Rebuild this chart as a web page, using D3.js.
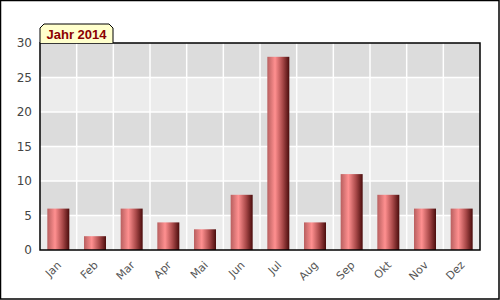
<!DOCTYPE html>
<html>
<head>
<meta charset="utf-8">
<script src="https://cdn.jsdelivr.net/npm/d3@7"></script>
<style>
  body { margin: 0; background: #fff; }
  svg { display: block; font-family: "DejaVu Sans", sans-serif; }
</style>
</head>
<body>
<div id="chart"></div>
<script>
// Daten
const months = ["Jan", "Feb", "Mar", "Apr", "Mai", "Jun", "Jul", "Aug", "Sep", "Okt", "Nov", "Dez"]
const values = [6, 2, 6, 4, 3, 8, 28, 4, 11, 8, 6, 6]
const yTicks = [0, 5, 10, 15, 20, 25, 30]
const title = "Jahr 2014"

const width = 500
const height = 300
const margin = { top: 43, right: 20, bottom: 50, left: 40 }

const svg = d3.select('#chart').append('svg')
    .attr('width', width)
    .attr('height', height)

// äußerer Rahmen
svg.append('rect')
    .attr('x', 0.5).attr('y', 0.5)
    .attr('width', width - 1.5).attr('height', height - 1.5)
    .attr('fill', '#fff')
    .attr('stroke', '#000')
    .attr('stroke-width', 1.5)

const x = d3.scaleBand()
    .domain(months)
    .range([margin.left, width - margin.right])
    .paddingInner(0)
    .paddingOuter(0)

const y = d3.scaleLinear()
    .domain([0, 30])
    .range([height - margin.bottom, margin.top])

// Farbverlauf der Balken
const grad = svg.append('defs').append('linearGradient')
    .attr('id', 'barGrad')
    .attr('x1', '0%').attr('x2', '100%')
    .attr('y1', '0%').attr('y2', '0%')
grad.append('stop').attr('offset', '0%').attr('stop-color', '#b85f5f')
grad.append('stop').attr('offset', '35%').attr('stop-color', '#ff9090')
grad.append('stop').attr('offset', '70%').attr('stop-color', '#a84848')
grad.append('stop').attr('offset', '100%').attr('stop-color', '#4a0c0c')

// Hintergrundstreifen
const bands = d3.range(yTicks.length - 1)
svg.append('g')
    .selectAll('rect')
    .data(bands)
    .enter()
    .append('rect')
    .attr('x', margin.left)
    .attr('width', width - margin.right - margin.left)
    .attr('y', i => y(yTicks[i + 1]))
    .attr('height', i => y(yTicks[i]) - y(yTicks[i + 1]))
    .attr('fill', i => i % 2 === 0 ? '#ececec' : '#dcdcdc')

// Gitterlinien (weiß)
const grid = svg.append('g').attr('stroke', '#fff').attr('stroke-width', 1.5)
grid.selectAll('.hl')
    .data(yTicks.slice(1, -1))
    .enter()
    .append('line')
    .attr('x1', margin.left).attr('x2', width - margin.right)
    .attr('y1', d => y(d)).attr('y2', d => y(d))
grid.selectAll('.vl')
    .data(months.slice(1))
    .enter()
    .append('line')
    .attr('x1', d => x(d)).attr('x2', d => x(d))
    .attr('y1', margin.top).attr('y2', height - margin.bottom)

// Balken
const barW = x.bandwidth() * 0.6
svg.append('g')
    .selectAll('rect')
    .data(values)
    .enter()
    .append('rect')
    .attr('x', (d, i) => x(months[i]) + (x.bandwidth() - barW) / 2)
    .attr('y', d => y(d))
    .attr('width', barW)
    .attr('height', d => y(0) - y(d))
    .attr('fill', 'url(#barGrad)')

// Rahmen des Plotbereichs
svg.append('rect')
    .attr('x', margin.left).attr('y', margin.top)
    .attr('width', width - margin.right - margin.left)
    .attr('height', height - margin.bottom - margin.top)
    .attr('fill', 'none')
    .attr('stroke', '#000')
    .attr('stroke-width', 1.5)

// y-Achse
svg.append('g')
    .selectAll('text')
    .data(yTicks)
    .enter()
    .append('text')
    .attr('x', margin.left - 8)
    .attr('y', d => y(d))
    .attr('dy', '0.35em')
    .attr('text-anchor', 'end')
    .attr('font-size', 12)
    .attr('fill', '#444')
    .text(d => d)

// x-Achse (gedreht)
svg.append('g')
    .selectAll('text')
    .data(months)
    .enter()
    .append('text')
    .attr('transform', d => `translate(${x(d) + x.bandwidth() / 2 + 1},${height - margin.bottom + 13}) rotate(-45)`)
    .attr('text-anchor', 'end')
    .attr('dy', '0.35em')
    .attr('font-size', 11)
    .attr('fill', '#555')
    .text(d => d)

// Titel-Reiter
const tx0 = margin.left, tx1 = 113, ty0 = 24, ty1 = margin.top, c = 4
svg.append('path')
    .attr('d', `M${tx0},${ty1} L${tx0},${ty0 + c} L${tx0 + c},${ty0} L${tx1 - c},${ty0} L${tx1},${ty0 + c} L${tx1},${ty1}`)
    .attr('fill', '#ffffcc')
    .attr('stroke', '#000')
    .attr('stroke-width', 1)
svg.append('text')
    .attr('x', (tx0 + tx1) / 2)
    .attr('y', (ty0 + ty1) / 2 + 1)
    .attr('dy', '0.35em')
    .attr('text-anchor', 'middle')
    .attr('font-family', 'Liberation Sans, Arial, sans-serif')
    .attr('font-weight', 'bold')
    .attr('font-size', 13)
    .attr('fill', '#8b0000')
    .text(title)
</script>
</body>
</html>
